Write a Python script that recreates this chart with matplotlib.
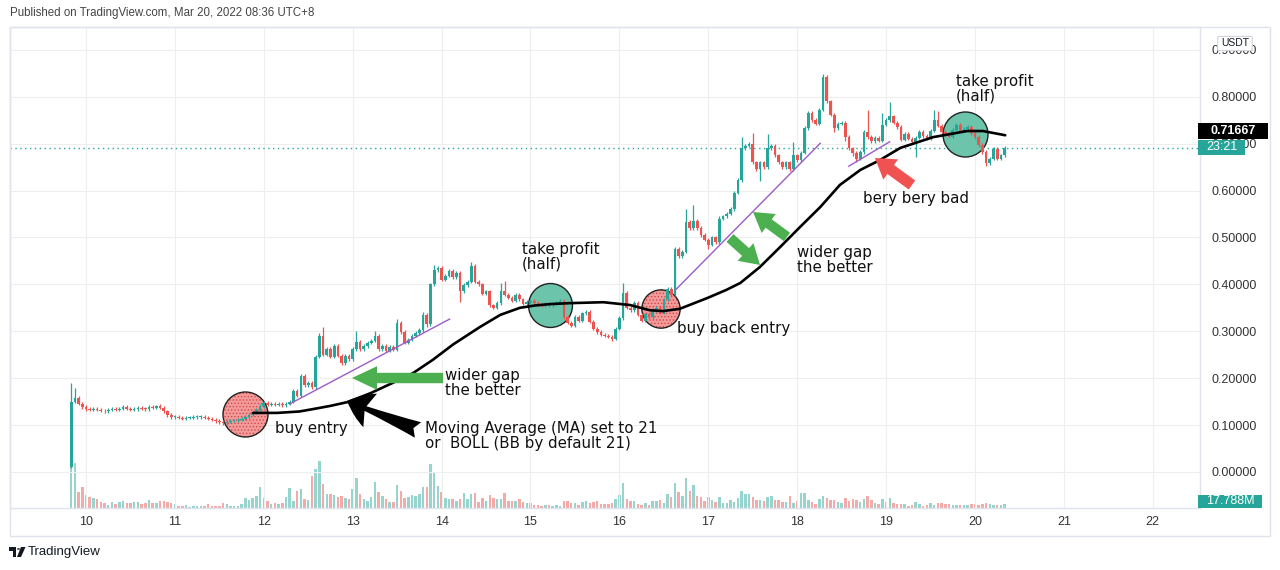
import numpy as np
import matplotlib.pyplot as plt
from matplotlib.patches import FancyArrowPatch, Rectangle, Polygon, Circle, FancyBboxPatch

# hourly candles, Mar 9 20:00 -> Mar 20 08:00 (UTC+8)
first_open = 0.010
closes = [
    0.150, 0.157, 0.146, 0.138,
    # Mar 10
    0.134, 0.132, 0.135, 0.133, 0.131, 0.129, 0.132, 0.135, 0.133, 0.135, 0.138, 0.135,
    0.132, 0.134, 0.137, 0.135, 0.134, 0.139, 0.137, 0.140, 0.137, 0.129, 0.121, 0.117,
    # Mar 11
    0.118, 0.116, 0.114, 0.115, 0.116, 0.117, 0.117, 0.118, 0.116, 0.114, 0.111, 0.108,
    0.106, 0.104, 0.107, 0.109, 0.110, 0.111, 0.113, 0.118, 0.122, 0.127, 0.132, 0.140,
    # Mar 12
    0.147, 0.143, 0.146, 0.143, 0.145, 0.142, 0.145, 0.150, 0.172, 0.163, 0.205, 0.185,
    0.190, 0.181, 0.245, 0.290, 0.250, 0.262, 0.245, 0.268, 0.248, 0.232, 0.248, 0.240,
    # Mar 13
    0.262, 0.278, 0.262, 0.268, 0.275, 0.280, 0.290, 0.262, 0.268, 0.258, 0.266, 0.260,
    0.318, 0.298, 0.275, 0.282, 0.290, 0.296, 0.302, 0.335, 0.315, 0.400, 0.430, 0.435,
    # Mar 14
    0.410, 0.418, 0.428, 0.415, 0.425, 0.385, 0.398, 0.405, 0.440, 0.405, 0.400, 0.380,
    0.385, 0.355, 0.350, 0.360, 0.385, 0.378, 0.372, 0.365, 0.378, 0.368, 0.358, 0.362,
    # Mar 15
    0.365, 0.360, 0.357, 0.355, 0.358, 0.355, 0.358, 0.361, 0.364, 0.330, 0.318, 0.312,
    0.330, 0.322, 0.338, 0.341, 0.320, 0.305, 0.298, 0.293, 0.290, 0.288, 0.284, 0.305,
    # Mar 16
    0.328, 0.381, 0.350, 0.345, 0.360, 0.335, 0.322, 0.336, 0.330, 0.345, 0.350, 0.340,
    0.368, 0.390, 0.378, 0.475, 0.460, 0.470, 0.533, 0.520, 0.535, 0.520, 0.505, 0.495,
    # Mar 17
    0.485, 0.500, 0.490, 0.540, 0.545, 0.550, 0.560, 0.595, 0.622, 0.690, 0.695, 0.700,
    0.660, 0.645, 0.660, 0.650, 0.690, 0.695, 0.675, 0.660, 0.650, 0.660, 0.645, 0.675,
    # Mar 18
    0.665, 0.680, 0.733, 0.765, 0.750, 0.742, 0.772, 0.842, 0.790, 0.762, 0.733, 0.742,
    0.745, 0.715, 0.690, 0.680, 0.668, 0.682, 0.725, 0.714, 0.705, 0.712, 0.706, 0.740,
    # Mar 19
    0.750, 0.758, 0.745, 0.735, 0.708, 0.720, 0.710, 0.703, 0.712, 0.725, 0.716, 0.710,
    0.728, 0.750, 0.738, 0.725, 0.720, 0.715, 0.730, 0.740, 0.728, 0.732, 0.735, 0.722,
    # Mar 20
    0.714, 0.697, 0.682, 0.658, 0.668, 0.688, 0.668, 0.675, 0.691,
]

# notable wick extremes (candle index -> price)
wick_hi = {0: 0.190, 1: 0.180, 14: 0.142, 23: 0.143, 60: 0.176, 62: 0.210, 67: 0.296,
           68: 0.310, 71: 0.272, 77: 0.300, 82: 0.300, 88: 0.326, 95: 0.342, 98: 0.442,
           99: 0.440, 108: 0.448, 116: 0.404, 117: 0.407, 149: 0.403, 166: 0.560,
           168: 0.569, 175: 0.546, 181: 0.714, 184: 0.723, 188: 0.720, 195: 0.703,
           203: 0.848, 215: 0.772, 219: 0.765, 221: 0.789, 233: 0.772, 234: 0.770}
wick_lo = {0: 0.008, 96: 0.309, 105: 0.362, 146: 0.279, 172: 0.475, 186: 0.620,
           206: 0.724, 209: 0.705, 211: 0.673, 212: 0.661, 228: 0.672, 247: 0.652}

volume = [
    300, 270, 96, 126, 78, 66, 60, 54, 36, 30, 18, 36, 24, 36, 42, 30, 30, 36, 36, 24,
    30, 48, 30, 30, 42, 42, 36, 30, 24, 12, 12, 18, 6, 12, 12, 12, 12, 24, 12, 12,
    12, 30, 24, 12, 12, 12, 24, 60, 48, 60, 72, 126, 60, 42, 24, 30, 24, 30, 66, 120,
    42, 102, 114, 54, 48, 192, 234, 282, 144, 84, 84, 78, 66, 72, 60, 54, 114, 180, 84, 54,
    42, 66, 156, 96, 72, 54, 36, 36, 138, 102, 60, 66, 78, 72, 84, 126, 126, 264, 216, 132,
    96, 60, 54, 54, 42, 54, 90, 54, 84, 90, 36, 60, 42, 78, 60, 54, 54, 90, 42, 42,
    42, 54, 36, 30,
    30, 18, 18, 12, 18, 18, 12, 18, 12, 42, 42, 30, 30, 18, 36, 42, 30, 36, 42, 24,
    24, 24, 30, 54, 78, 150, 54, 42, 42, 24, 18, 30, 18, 42, 42, 48, 30, 84, 66, 150,
    96, 72, 180, 102, 138, 72, 66, 42, 66, 48, 36, 66, 30, 30, 48, 36, 60, 102, 84, 84,
    66, 48, 48, 42, 66, 72, 48, 48, 36, 36, 72, 30, 42, 90, 90, 48, 36, 24, 54, 72,
    60, 48, 48, 36, 30, 60, 42, 54, 48, 36, 54, 72, 48, 30, 24, 54, 36, 60, 30, 24,
    24, 24, 12, 18, 36, 24, 12, 18, 30, 18, 30, 30, 24, 24, 18, 18, 18, 18, 18, 24,
    24, 18, 24, 30, 24, 18, 18, 18, 24,
]

# moving average curve (day, price)
ma_days = [11.88, 12.15, 12.40, 12.55, 12.75, 12.94, 13.20, 13.45, 13.68, 13.90, 14.13,
           14.43, 14.66, 14.88, 15.05, 15.22, 15.44, 15.82, 16.12, 16.34, 16.49, 16.68,
           16.99, 17.20, 17.36, 17.58, 17.81, 18.03, 18.26, 18.48, 18.71, 18.93, 19.16,
           19.53, 19.91, 20.09, 20.34]
ma_vals = [0.126, 0.126, 0.129, 0.134, 0.141, 0.149, 0.168, 0.190, 0.211, 0.239, 0.272,
           0.309, 0.335, 0.350, 0.355, 0.358, 0.360, 0.362, 0.356, 0.345, 0.343, 0.348,
           0.371, 0.388, 0.403, 0.437, 0.480, 0.522, 0.565, 0.612, 0.644, 0.665, 0.691,
           0.714, 0.727, 0.727, 0.718]

trend_lines = [((12.29, 0.145), (14.09, 0.326)),
               ((16.63, 0.388), (18.26, 0.701)),
               ((18.58, 0.652), (19.04, 0.704))]

price_ticks = [0.0, 0.1, 0.2, 0.3, 0.4, 0.5, 0.6, 0.7, 0.8, 0.9]
day_ticks = list(range(10, 23))

UP, DOWN = '#26a69a', '#ef5350'
UP_V, DOWN_V = '#98d4ce', '#f4aaa9'
W, H = 1280, 570

plt.rcParams['font.family'] = 'DejaVu Sans'
plt.rcParams['hatch.color'] = '#d24a4a'
plt.rcParams['hatch.linewidth'] = 0.6

fig = plt.figure(figsize=(12.8, 5.7), dpi=100)
fig.patch.set_facecolor('white')


def fx(px):
    return px / W


def fy(py):
    return 1 - py / H


ax = fig.add_axes([fx(10), fy(508), fx(1190), 481 / H])
ax2 = ax.twinx()
ax2.set_zorder(ax.get_zorder() - 1)
ax.patch.set_visible(False)

days = 9 + (20 + np.arange(len(closes))) / 24
c = np.array(closes)
o = np.concatenate([[first_open], c[:-1]])
top = np.maximum(o, c)
bot = np.minimum(o, c)
hi = top + 0.004
lo = bot - 0.003
for k, v in wick_hi.items():
    hi[k] = v
for k, v in wick_lo.items():
    lo[k] = v
up = c >= o
col = np.where(up, UP, DOWN)

# volume
ax2.bar(days, volume, width=0.028, color=np.where(up, UP_V, DOWN_V), lw=0)
ax2.set_ylim(0, 481 * 6)
ax2.axis('off')

# candles
ax.vlines(days, lo, hi, colors=col, lw=0.9, zorder=3)
ax.bar(days, np.maximum(top - bot, 0.0016), bottom=bot, width=0.03, color=col, lw=0, zorder=3)

# circles
red_spots = [(11.794, 0.1226, 1050), (16.468, 0.3475, 760)]
teal_spots = [(15.219, 0.356, 1000), (19.882, 0.7196, 1050)]
for d, p, s in red_spots:
    ax.scatter([d], [p], s=s, facecolor='#f39a9a', edgecolor='none', hatch='.....', zorder=2)
    ax.scatter([d], [p], s=s, facecolor='none', edgecolor='#222222', lw=1.0, zorder=2.1)
for d, p, s in teal_spots:
    ax.scatter([d], [p], s=s, facecolor='#6cc4ab', edgecolor='#222222', lw=1.0, zorder=2)

# trend lines
for (d0, p0), (d1, p1) in trend_lines:
    ax.plot([d0, d1], [p0, p1], color='#9c5bc9', lw=1.0, zorder=4)

# moving average
ax.plot(ma_days, ma_vals, color='black', lw=1.9, zorder=4, solid_capstyle='round',
        solid_joinstyle='round')

# last price line
ax.axhline(closes[-1], color=UP, lw=1.0, ls=(0, (1, 2.5)), zorder=1)


def arrow(tail, tip, color, style, scale):
    a = FancyArrowPatch(tail, tip, arrowstyle=style, mutation_scale=scale,
                        color=color, lw=0, shrinkA=0, shrinkB=0, zorder=5)
    ax.add_patch(a)


arrow((14.016, 0.2004), (12.992, 0.2004), '#4caf50',
      'simple,head_length=1.8,head_width=1.7,tail_width=0.75', 10)
arrow((13.735, 0.0896), (12.936, 0.1514), 'black',
      'fancy,head_length=1.8,head_width=2.6,tail_width=1.2', 10)
arrow((17.885, 0.5011), (17.503, 0.5544), '#4caf50',
      'simple,head_length=1.4,head_width=1.7,tail_width=0.75', 10)
arrow((17.244, 0.4989), (17.582, 0.4414), '#4caf50',
      'simple,head_length=1.4,head_width=1.7,tail_width=0.75', 10)
arrow((19.291, 0.6119), (18.875, 0.6695), '#f05252',
      'simple,head_length=1.4,head_width=1.8,tail_width=0.8', 10)

notes = [
    (12.126, 0.0917, 'buy entry'),
    (14.038, 0.190, 'wider gap\nthe better'),
    (13.813, 0.0768, 'Moving Average (MA) set to 21\nor  BOLL (BB by default 21)'),
    (14.904, 0.458, 'take profit\n(half)'),
    (16.653, 0.307, 'buy back entry'),
    (17.998, 0.452, 'wider gap\nthe better'),
    (18.740, 0.584, 'bery bery bad'),
    (19.786, 0.8166, 'take profit\n(half)'),
]
for d, p, t in notes:
    ax.text(d, p, t, fontsize=10.8, color='#111111', ha='left', va='center',
            linespacing=0.95, zorder=6)

# axes look
ax.set_xlim(9.1451, 22.531)
ax.set_ylim(-0.07676, 0.9488)
ax.set_yticks(price_ticks)
ax.set_yticklabels([f'{v:.5f}' for v in price_ticks])
ax.set_xticks(day_ticks)
ax.set_xticklabels([str(d) for d in day_ticks])
ax.yaxis.tick_right()
ax.tick_params(axis='y', length=0, pad=8, labelsize=9, labelcolor='#333333')
ax.tick_params(axis='x', length=0, pad=6, labelsize=9, labelcolor='#333333')
for lab in ax.get_xticklabels() + ax.get_yticklabels():
    lab.set_fontfamily('Liberation Sans')
ax.grid(True, color='#eeeeee', lw=0.8, zorder=0)
ax.set_axisbelow(True)
for sp in ax.spines.values():
    sp.set_color('#e0e3eb')
    sp.set_linewidth(1.0)

# outer frame
fig.patches.append(Rectangle((fx(10), fy(536)), fx(1260), 509 / H, transform=fig.transFigure,
                             fill=False, ec='#e0e3eb', lw=1.0, zorder=1))


def tag(x0, y0, x1, y1, text, bg, fg, bold=False, size=8.5):
    fig.patches.append(Rectangle((fx(x0), fy(y1)), fx(x1 - x0), (y1 - y0) / H,
                                 transform=fig.transFigure, fc=bg, ec='none', zorder=5))
    fig.text(fx((x0 + x1) / 2), fy((y0 + y1) / 2), text, color=fg, fontsize=size,
             ha='center', va='center', fontweight='bold' if bold else 'normal',
             family='Liberation Sans', zorder=6)


tag(1198, 123, 1268, 139, '0.71667', 'black', 'white', bold=True, size=9)
tag(1198, 140, 1245, 155, '23:21', UP, 'white', size=9)
tag(1198, 495, 1262, 508, '17.788M', UP, 'white', size=9)

fig.patches.append(FancyBboxPatch((fx(1219), fy(50)), fx(32), 13 / H, transform=fig.transFigure,
                                  boxstyle='round,pad=0.001', fc='white', ec='#d1d4dc',
                                  lw=0.8, zorder=5))
fig.text(fx(1235), fy(43.5), 'USDT', fontsize=7.5, color='#131722', ha='center', va='center',
         family='Liberation Sans', zorder=6)

fig.text(fx(10), fy(13), 'Published on TradingView.com, Mar 20, 2022 08:36 UTC+8',
         fontsize=8.3, color='#444444', ha='left', va='center', family='Liberation Sans')

# footer logo
fig.patches.append(Polygon([(fx(9), fy(547)), (fx(16), fy(547)), (fx(16), fy(557)),
                            (fx(13), fy(557)), (fx(13), fy(550.5)), (fx(9), fy(550.5))],
                           closed=True, transform=fig.transFigure, fc='#131722', ec='none'))
fig.patches.append(Circle((fx(18.5), fy(549)), 1.6 / W, transform=fig.transFigure,
                          fc='#131722', ec='none'))
fig.patches.append(Polygon([(fx(21), fy(547)), (fx(25.5), fy(547)), (fx(21), fy(557)),
                            (fx(17), fy(557))],
                           closed=True, transform=fig.transFigure, fc='#131722', ec='none'))
fig.text(fx(28), fy(552), 'TradingView', fontsize=9.5, color='#131722', ha='left',
         va='center', family='Liberation Sans')

fig.savefig('out.png', dpi=100)
